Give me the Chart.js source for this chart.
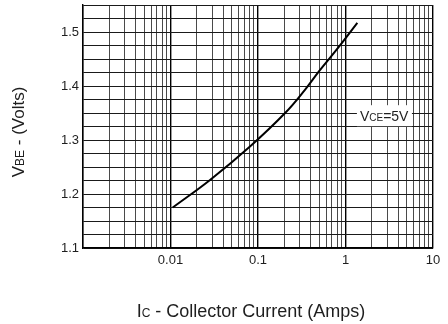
<!DOCTYPE html>
<html>
<head>
<meta charset="utf-8">
<script src="https://cdn.jsdelivr.net/npm/chart.js@4/dist/chart.umd.min.js"></script>
<style>
  html, body { margin: 0; padding: 0; background: #fff; }
  #wrap { width: 448px; height: 324px; }
</style>
</head>
<body>
<div id="wrap"><canvas id="c" width="448" height="324"></canvas></div>
<script>
// ---- data ----
const collectorCurrentA = [0.0106, 0.0283, 0.081, 0.204, 0.344, 0.502, 0.843, 1.365];
const vbeVolts          = [1.175, 1.226, 1.288, 1.350, 1.393, 1.428, 1.473, 1.517];

// ---- axes ----
const xMin = 0.001, xMax = 10;
const xDecades = [0.001, 0.01, 0.1, 1];
const xTickLabels = { "0.01": "0.01", "0.1": "0.1", "1": "1", "10": "10" };
const yMin = 1.1, yMax = 1.55;
const yGridValues = [1.1, 1.125, 1.15, 1.175, 1.2, 1.225, 1.25, 1.275, 1.3, 1.325,
                     1.35, 1.375, 1.4, 1.425, 1.45, 1.475, 1.5, 1.525, 1.55];
const yTickLabels = { "1.1": "1.1", "1.2": "1.2", "1.3": "1.3", "1.4": "1.4", "1.5": "1.5" };

// annotation
const curveLabelAt = { x: 1.35, y: 1.345 };

const xGridValues = [];
xDecades.forEach(d => { for (let m = 1; m <= 9; m++) xGridValues.push(+(d * m).toPrecision(6)); });
xGridValues.push(xMax);

const FONT = "'Liberation Sans', Arial, Helvetica, sans-serif";
const TEXT = '#1e1e1e';

function isDecade(v) {
  const l = Math.log10(v);
  return Math.abs(l - Math.round(l)) < 1e-9;
}
function keyOf(v) { return String(+v.toPrecision(6)); }

function drawRich(ctx, parts, x, y, align) {
  let total = 0;
  parts.forEach(p => { ctx.font = p.size + 'px ' + FONT; p.w = ctx.measureText(p.t).width; total += p.w; });
  let cx = align === 'center' ? x - total / 2 : x;
  ctx.textBaseline = 'alphabetic';
  ctx.textAlign = 'left';
  parts.forEach(p => { ctx.font = p.size + 'px ' + FONT; ctx.fillText(p.t, cx, y); cx += p.w; });
  return total;
}

const textPlugin = {
  id: 'texts',
  afterDraw(chart) {
    const ctx = chart.ctx;
    const xs = chart.scales.x, ys = chart.scales.y;
    ctx.save();
    ctx.fillStyle = TEXT;
    // x title
    drawRich(ctx, [{t: 'I', size: 18}, {t: 'C', size: 12}, {t: ' - Collector Current (Amps)', size: 18}], 251, 317, 'center');
    // y title
    ctx.save();
    ctx.translate(18, 132);
    ctx.rotate(-Math.PI / 2);
    drawRich(ctx, [{t: 'V', size: 17}, {t: 'BE', size: 12}, {t: ' - (Volts)', size: 17}], 0, 6, 'center');
    ctx.restore();
    // curve label
    const lx = xs.getPixelForValue(curveLabelAt.x);
    const ly = ys.getPixelForValue(curveLabelAt.y);
    ctx.fillStyle = '#fff';
    ctx.fillRect(lx, ly - 10.5, 55, 21);
    ctx.fillStyle = TEXT;
    drawRich(ctx, [{t: 'V', size: 14}, {t: 'CE', size: 10}, {t: '=5V', size: 14}], lx + 3, ly + 5.5, 'left');
    ctx.restore();
  }
};

new Chart(document.getElementById('c'), {
  type: 'line',
  data: {
    datasets: [{
      data: collectorCurrentA.map((x, i) => ({ x: x, y: vbeVolts[i] })),
      borderColor: '#000',
      borderWidth: 2,
      pointRadius: 0,
      fill: false,
      tension: 0.4
    }]
  },
  options: {
    responsive: false,
    animation: false,
    layout: { padding: { top: 5, right: 15, left: 0, bottom: 0 } },
    plugins: { legend: { display: false }, tooltip: { enabled: false }, title: { display: false } },
    scales: {
      x: {
        type: 'logarithmic',
        min: xMin, max: xMax,
        afterBuildTicks(scale) { scale.ticks = xGridValues.map(v => ({ value: v })); },
        afterFit(scale) { scale.height = 76; scale.paddingLeft = 0; scale.paddingRight = 0; },
        ticks: {
          autoSkip: false, maxRotation: 0, minRotation: 0, padding: 5,
          color: TEXT, font: { family: FONT, size: 13 },
          callback(v) { return xTickLabels[keyOf(v)] || ''; }
        },
        grid: {
          drawTicks: false,
          color: ctx => (ctx.tick && isDecade(ctx.tick.value)) ? '#000' : '#4a4a4a',
          lineWidth: ctx => (ctx.tick && isDecade(ctx.tick.value)) ? 1.4 : 1
        },
        border: { display: true, color: '#000', width: 1.4 }
      },
      y: {
        type: 'linear',
        min: yMin, max: yMax,
        afterBuildTicks(scale) { scale.ticks = yGridValues.map(v => ({ value: v })); },
        afterFit(scale) { scale.width = 83; scale.paddingTop = 0; scale.paddingBottom = 0; },
        ticks: {
          autoSkip: false, padding: 4,
          color: TEXT, font: { family: FONT, size: 13 },
          callback(v) { return yTickLabels[keyOf(v)] || ''; }
        },
        grid: { drawTicks: false, color: '#1a1a1a', lineWidth: 1 },
        border: { display: true, color: '#000', width: 1.4 }
      }
    }
  },
  plugins: [textPlugin]
});
</script>
</body>
</html>
